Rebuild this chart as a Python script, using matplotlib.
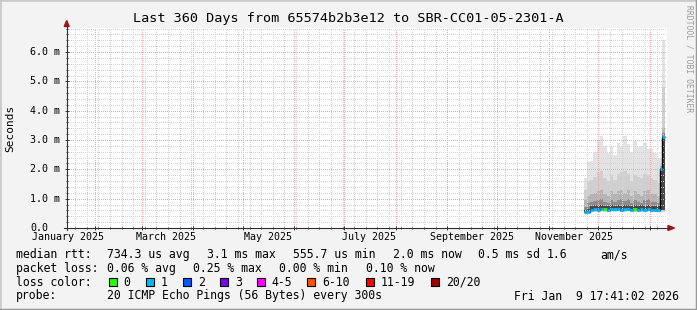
# smokeping style latency graph (rrdtool look)
import matplotlib
matplotlib.use('Agg')
import matplotlib.pyplot as plt
import matplotlib.dates as mdates
import matplotlib.ticker as mticker
import matplotlib.transforms as mtrans
from matplotlib.lines import Line2D
from matplotlib.patches import Rectangle, Polygon
import pandas as pd

W, H = 697, 310

# graph time range
t_start = '2025-01-14 23:15'
t_end = '2026-01-11 01:30'

# smoke bins: start of each bin, last entry closes the last bin
bin_edges = ['2025-11-22', '2025-11-24', '2025-11-26', '2025-11-28', '2025-11-30',
             '2025-12-02', '2025-12-04', '2025-12-06', '2025-12-08', '2025-12-10',
             '2025-12-12', '2025-12-14', '2025-12-16', '2025-12-18', '2025-12-20',
             '2025-12-22', '2025-12-24', '2025-12-26', '2025-12-28', '2025-12-30',
             '2026-01-01', '2026-01-03', '2026-01-05', '2026-01-07',
             '2026-01-08 06:00', '2026-01-09 18:00']

# values in ms
median = [0.55, 0.56, 0.62, 0.64, 0.63, 0.65, 0.64, 0.63, 0.66, 0.64, 0.65, 0.63, 0.64,
          0.66, 0.63, 0.64, 0.62, 0.64, 0.63, 0.65, 0.62, 0.63, 0.62, 2.0, 3.1]
rtt_max = [1.7, 2.25, 2.3, 2.6, 3.0, 3.15, 2.8, 2.55, 2.75, 2.5, 2.9, 2.75, 3.15,
           2.85, 2.6, 2.95, 2.75, 2.8, 2.9, 2.7, 2.7, 2.55, 2.4, 2.4, 6.4]
rtt_p90 = [1.3, 1.6, 1.65, 1.75, 1.9, 1.95, 1.7, 1.6, 1.8, 1.65, 1.85, 1.9, 1.95,
           1.85, 1.6, 1.8, 1.75, 1.7, 1.85, 1.8, 1.7, 1.65, 1.55, 2.2, 4.8]
rtt_p75 = [0.95, 1.1, 1.15, 1.2, 1.25, 1.3, 1.15, 1.1, 1.25, 1.15, 1.25, 1.3, 1.2,
           1.3, 1.1, 1.25, 1.15, 1.1, 1.25, 1.3, 1.15, 1.15, 1.1, 2.1, 3.4]
rtt_p60 = [0.72, 0.85, 0.88, 0.92, 0.95, 0.98, 0.9, 0.86, 0.95, 0.9, 0.96, 1.0, 0.92,
           0.98, 0.86, 0.94, 0.9, 0.86, 0.95, 0.98, 0.9, 0.9, 0.86, 2.05, 3.25]
rtt_core = [0.62, 0.66, 0.74, 0.77, 0.76, 0.78, 0.76, 0.75, 0.79, 0.76, 0.78, 0.76, 0.77,
            0.79, 0.75, 0.77, 0.74, 0.77, 0.76, 0.78, 0.74, 0.75, 0.74, 2.0, 3.15]
rtt_min = [0.5, 0.5, 0.55, 0.56, 0.55, 0.57, 0.56, 0.55, 0.58, 0.56, 0.57, 0.55, 0.56,
           0.58, 0.55, 0.56, 0.54, 0.56, 0.55, 0.57, 0.54, 0.55, 0.54, 0.56, 0.56]
rtt_low = [0.53, 0.54, 0.59, 0.61, 0.6, 0.62, 0.61, 0.6, 0.63, 0.61, 0.62, 0.6, 0.61,
           0.63, 0.6, 0.61, 0.59, 0.61, 0.6, 0.62, 0.59, 0.6, 0.59, 0.6, 0.6]
loss = [1, 1, 1, 1, 1, 1, 0, 1, 1, 1, 1, 1, 1, 1, 1, 0, 1, 1, 1, 1, 1, 1, 1, 1, 1]

loss_labels = ['0', '1', '2', '3', '4-5', '6-10', '11-19', '20/20']
loss_colors = ['#26ff00', '#00b8ff', '#0059ff', '#7e00ff', '#ff00ff', '#ff5500', '#ff0000', '#a00000']

x_labels = ['January 2025', 'March 2025', 'May 2025', 'July 2025', 'September 2025', 'November 2025']
x_label_months = ['2025-01-01', '2025-03-01', '2025-05-01', '2025-07-01', '2025-09-01', '2025-11-01']
y_ticks = [0, 1, 2, 3, 4, 5, 6]
y_labels = ['0.0', '1.0 m', '2.0 m', '3.0 m', '4.0 m', '5.0 m', '6.0 m']
y_top = 6.82

plt.rcParams['font.family'] = 'DejaVu Sans Mono'


def fx(x):
    return x / W


def fy(y):
    return 1 - y / H


fig = plt.figure(figsize=(W / 100, H / 100), dpi=100, facecolor='#f3f3f3')
ax = fig.add_axes([fx(66.7), fy(228), 600 / W, 200 / H])
ax.set_facecolor('white')

edges = mdates.date2num(pd.to_datetime(bin_edges, format='mixed'))

# smoke, outer to inner
layers = [(rtt_max, rtt_min, '#e3e3e3'), (rtt_p90, rtt_min, '#cfcfcf'),
          (rtt_p75, rtt_low, '#b4b4b4'), (rtt_p60, rtt_low, '#8c8c8c'),
          (rtt_core, rtt_low, '#474747')]
for top, low, col in layers:
    ax.stairs(top, edges, baseline=low, fill=True, color=col, lw=0, zorder=1)

# median line coloured by loss
ax.stairs(median, edges, baseline=None, color='black', lw=1, zorder=3)
for i, m in enumerate(median):
    ax.hlines(m, edges[i], edges[i + 1], color=loss_colors[loss[i]], lw=2, zorder=4)

ax.set_xlim(mdates.date2num(pd.Timestamp(t_start)), mdates.date2num(pd.Timestamp(t_end)))
ax.set_ylim(0, y_top)

ax.xaxis.set_major_locator(mdates.MonthLocator())
ax.xaxis.set_minor_locator(mdates.WeekdayLocator(byweekday=mdates.MO))
ax.xaxis.set_major_formatter(mticker.NullFormatter())
ax.yaxis.set_major_locator(mticker.FixedLocator(y_ticks))
ax.yaxis.set_minor_locator(mticker.MultipleLocator(0.2))
ax.yaxis.set_major_formatter(mticker.NullFormatter())

ax.grid(which='minor', color='#d2d2d2', lw=0.72, ls=(0, (1, 1.6)), antialiased=False, zorder=5)
ax.grid(which='major', color='#f4a2a2', lw=0.72, ls=(0, (1, 1.6)), antialiased=False, zorder=6)
ax.set_axisbelow(False)
ax.tick_params(which='major', direction='inout', length=3, width=0.72, color='#404040')
ax.tick_params(which='minor', direction='inout', length=1.5, width=0.72, color='#404040')
for s in ax.spines.values():
    s.set_visible(False)

# tick labels (left edge of every label at the same x, numbers line up)
ylab_tr = mtrans.blended_transform_factory(fig.transFigure, ax.transData)
for v, lab in zip(y_ticks, y_labels):
    ax.text(fx(30), v, lab, transform=ylab_tr, ha='left', va='center', fontsize=7.2,
            clip_on=False)
lab_pos = mdates.date2num(pd.to_datetime(x_label_months) + pd.Timedelta(days=15))
for p, lab in zip(lab_pos, x_labels):
    ax.text(p, -9.5 / 200, lab, transform=ax.get_xaxis_transform(), ha='center', va='center',
            fontsize=7.2, clip_on=False)

# axis lines and arrows
fig.add_artist(Line2D([fx(66.7), fx(66.7)], [fy(230), fy(25)], color='#303030', lw=0.8))
fig.add_artist(Line2D([fx(64), fx(669)], [fy(228), fy(228)], color='#303030', lw=0.8))
fig.add_artist(Polygon([(fx(64.2), fy(26.5)), (fx(69.2), fy(26.5)), (fx(66.7), fy(20.5))],
                       closed=True, color='#a01818'))
fig.add_artist(Polygon([(fx(668), fy(225.5)), (fx(668), fy(230.5)), (fx(674.5), fy(228))],
                       closed=True, color='#a01818'))

# titles
fig.text(0.5, fy(18.5), 'Last 360 Days from 65574b2b3e12 to SBR-CC01-05-2301-A',
         ha='center', va='center', fontsize=9.7)
fig.text(fx(10), fy(128), 'Seconds', rotation=90, ha='center', va='center', fontsize=8)
fig.text(fx(688.5), fy(59), 'RRDTOOL / TOBI OETIKER', rotation=-90, ha='center', va='center',
         fontsize=5.8, color='#9a9a9a')

# legend
fs = 8.3
rows = [
    (254.5, [(16, 'median rtt:'), (107.3, '734.3 us avg'), (207.3, '3.1 ms max'),
             (292.7, '555.7 us min'), (393.3, '2.0 ms now'), (477.5, '0.5 ms sd'),
             (547, '1.6'), (600, 'am/s')]),
    (268.3, [(16, 'packet loss:'), (107.3, '0.06 % avg'), (193.3, '0.25 % max'),
             (279.3, '0.00 % min'), (366, '0.10 % now')]),
    (282.3, [(16, 'loss color:')]),
    (296, [(16, 'probe:'), (107.3, '20 ICMP Echo Pings (56 Bytes) every 300s')]),
]
for y, items in rows:
    for x, s in items:
        fig.text(fx(x), fy(y), s, ha='left', va='center', fontsize=fs)
fig.text(fx(679), fy(296), 'Fri Jan  9 17:41:02 2026', ha='right', va='center', fontsize=fs)

box_x = [108.7, 145.7, 182.7, 220, 256.7, 307.3, 366, 430.7]
for bx, lab, col in zip(box_x, loss_labels, loss_colors):
    fig.add_artist(Rectangle((fx(bx), fy(286)), 8 / W, 8 / H, facecolor=col,
                             edgecolor='black', lw=0.8, transform=fig.transFigure))
    fig.text(fx(bx + 15), fy(282.3), lab, ha='left', va='center', fontsize=fs)

# 3d border
fig.add_artist(Line2D([0, 0], [0, 1], color='#cbcbcb', lw=2))
fig.add_artist(Line2D([0, 1], [1, 1], color='#cbcbcb', lw=2))
fig.add_artist(Line2D([1, 1], [0, 1], color='#999999', lw=2.5))
fig.add_artist(Line2D([0, 1], [0, 0], color='#999999', lw=2.5))

fig.savefig('out.png', dpi=100, facecolor=fig.get_facecolor())
